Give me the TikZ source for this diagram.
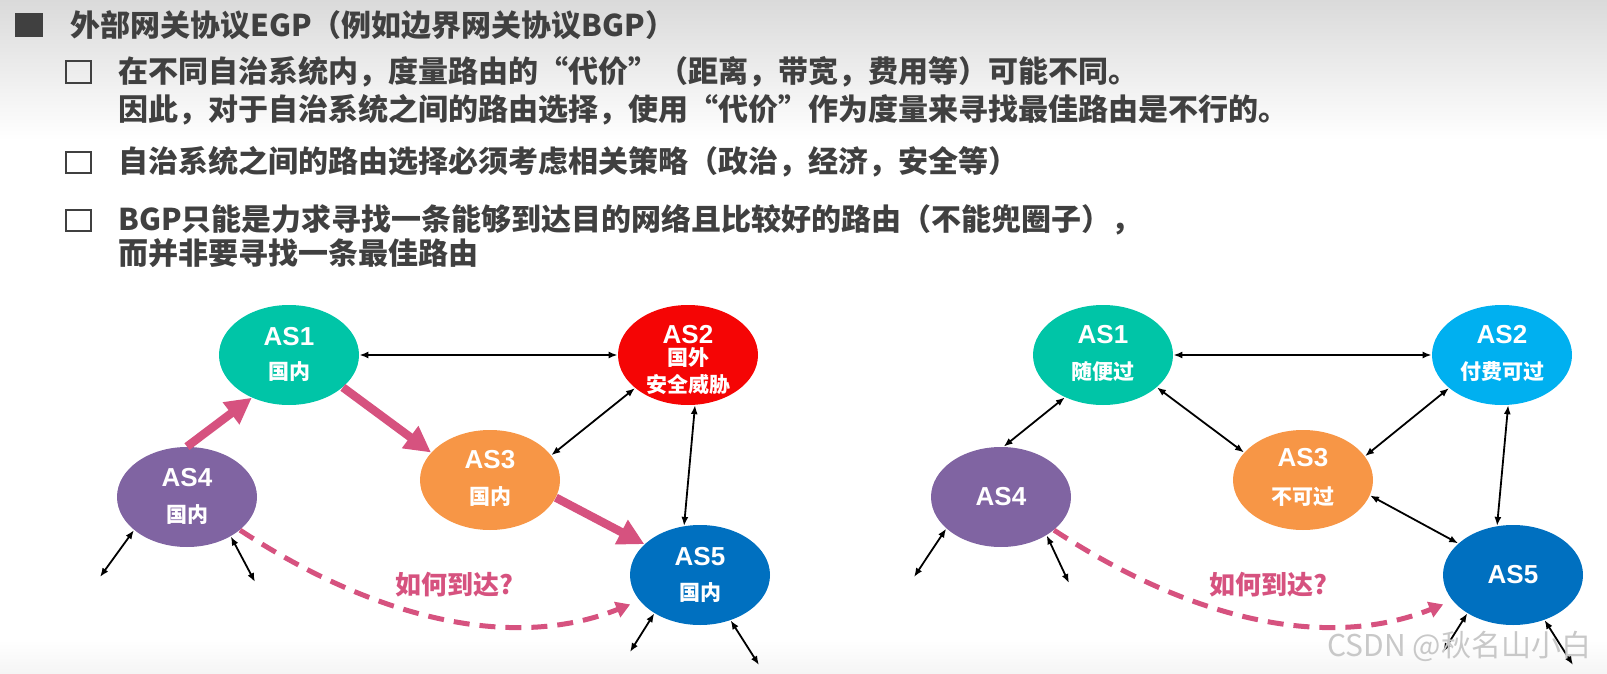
\documentclass[tikz,border=0pt]{standalone}
\usepackage{fontspec}
\setmainfont{Liberation Sans}
\newfontfamily\cjk{Noto Sans CJK SC}
\usetikzlibrary{arrows.meta,shapes.geometric}
\definecolor{TextGray}{RGB}{64,64,64}
\definecolor{HeadGray}{RGB}{218,218,218}
\definecolor{ASTeal}{RGB}{0,197,167}
\definecolor{ASRed}{RGB}{245,5,5}
\definecolor{ASOrange}{RGB}{247,150,70}
\definecolor{ASPurple}{RGB}{128,100,162}
\definecolor{ASBlue}{RGB}{0,112,192}
\definecolor{ASSky}{RGB}{0,176,240}
\definecolor{RoutePink}{RGB}{214,82,127}
\definecolor{MarkGray}{RGB}{200,200,200}

\begin{document}
\begin{tikzpicture}[x=0.5pt,y=-0.5pt,
    asnode/.style={ellipse, minimum width=70pt, minimum height=50pt, inner sep=0pt},
    asname/.style={text=white, inner sep=0pt, font=\bfseries\fontsize{13}{15}\selectfont},
    asnote/.style={text=white, inner sep=0pt, font=\cjk\bfseries\fontsize{10.5}{12}\selectfont},
    hdline/.style={anchor=west, inner sep=0pt, text=TextGray, font=\cjk\bfseries\fontsize{15}{18}\selectfont},
    link/.style={<->, >={Latex[length=4.5pt,width=3.5pt]}, line width=0.9pt},
    route/.style={-{Triangle[length=13pt,width=13pt]}, line width=4.2pt, RoutePink},
    query/.style={-{Triangle[length=7pt,width=8pt]}, line width=2.5pt, RoutePink, dash pattern=on 8pt off 5pt},
    asked/.style={text=RoutePink, inner sep=0pt, font=\cjk\bfseries\fontsize{13}{15}\selectfont}]
  \useasboundingbox (0,0) rectangle (1607,674);
  \shade[top color=HeadGray, bottom color=white] (0,0) rectangle (1607,140);
  \shade[top color=white, bottom color=black!4] (0,640) rectangle (1607,674);
  % bullets and text
  \fill[TextGray] (15,13) rectangle (43,37);
  \draw[TextGray, line width=1.3pt] (66,61) rectangle (91,83);
  \draw[TextGray, line width=1.3pt] (66,152) rectangle (91,173);
  \draw[TextGray, line width=1.3pt] (66,210) rectangle (91,231);
  \node[hdline] (h1) at (70,25) {外部网关协议EGP（例如边界网关协议BGP）};
  \node[hdline] (h2) at (118,72) {在不同自治系统内，度量路由的“代价”（距离，带宽，费用等）可能不同。};
  \node[hdline] (h3) at (118,110) {因此，对于自治系统之间的路由选择，使用“代价”作为度量来寻找最佳路由是不行的。};
  \node[hdline] (h4) at (118,162) {自治系统之间的路由选择必须考虑相关策略（政治，经济，安全等）};
  \node[hdline] (h5) at (118,220) {BGP只能是力求寻找一条能够到达目的网络且比较好的路由（不能兜圈子），};
  \node[hdline] (h6) at (118,253) {而并非要寻找一条最佳路由};

  % left: policy by country
  \node[asnode, fill=ASTeal] (l1) at (289,355) {};
  \node[asname] (l1a) at ([yshift=9pt]l1.center) {AS1};
  \node[asnote] (l1b) at ([yshift=-8.5pt]l1.center) {国内};
  \node[asnode, fill=ASRed] (l2) at (688,355) {};
  \node[asname] (l2a) at ([yshift=10pt]l2.center) {AS2};
  \node[asnote] (l2b) at ([yshift=-1.5pt]l2.center) {国外};
  \node[asnote] (l2c) at ([yshift=-15pt]l2.center) {安全威胁};
  \node[asnode, fill=ASOrange] (l3) at (490,480) {};
  \node[asname] (l3a) at ([yshift=10pt]l3.center) {AS3};
  \node[asnote] (l3b) at ([yshift=-8.5pt]l3.center) {国内};
  \node[asnode, fill=ASPurple] (l4) at (187,497) {};
  \node[asname] (l4a) at ([yshift=9.5pt]l4.center) {AS4};
  \node[asnote] (l4b) at ([yshift=-9pt]l4.center) {国内};
  \node[asnode, fill=ASBlue] (l5) at (700,575) {};
  \node[asname] (l5a) at ([yshift=9pt]l5.center) {AS5};
  \node[asnote] (l5b) at ([yshift=-9pt]l5.center) {国内};
  \coordinate (l4x) at (100,577);
  \coordinate (l4y) at (255,582);
  \coordinate (l5x) at (630,652);
  \coordinate (l5y) at (759,665);
  \draw[link] (l1) -- (l2);
  \draw[link] (l2.212) -- (l3.22);
  \draw[link] (l2.278) -- (l5.108);
  \draw[link] (l4.212) -- (l4x);
  \draw[link] (l4.318) -- (l4y);
  \draw[link] (l5.220) -- (l5x);
  \draw[link] (l5.304) -- (l5y);
  \draw[route] (l4.north) -- (l1.229);
  \draw[route] (l1.329) -- (l3.155);
  \draw[route] (l3.345) -- (l5.151);
  \draw[query, shorten >=5pt] (l4.328) .. controls +(131,86) and +(-130,52) .. (l5.203);
  \node[asked] (q1) at (454,585) {如何到达?};

  % right: policy by transit
  \node[asnode, fill=ASTeal] (r1) at (1103,355) {};
  \node[asname] (r1a) at ([yshift=10pt]r1.center) {AS1};
  \node[asnote] (r1b) at ([yshift=-8.5pt]r1.center) {随便过};
  \node[asnode, fill=ASSky] (r2) at (1502,355) {};
  \node[asname] (r2a) at ([yshift=10pt]r2.center) {AS2};
  \node[asnote] (r2b) at ([yshift=-8.5pt]r2.center) {付费可过};
  \node[asnode, fill=ASOrange] (r3) at (1303,480) {};
  \node[asname] (r3a) at ([yshift=11pt]r3.center) {AS3};
  \node[asnote] (r3b) at ([yshift=-8.5pt]r3.center) {不可过};
  \node[asnode, fill=ASPurple] (r4) at (1001,497) {};
  \node[asname] (r4a) at (r4.center) {AS4};
  \node[asnode, fill=ASBlue] (r5) at (1513,575) {};
  \node[asname] (r5a) at (r5.center) {AS5};
  \coordinate (r4x) at (914,577);
  \coordinate (r4y) at (1069,583);
  \coordinate (r5x) at (1443,652);
  \coordinate (r5y) at (1573,665);
  \draw[link] (r1) -- (r2);
  \draw[link] (r1.228) -- (r4.87);
  \draw[link] (r1.329) -- (r3.155);
  \draw[link] (r2.212) -- (r3.21);
  \draw[link] (r2.277) -- (r5.108);
  \draw[link] (r3.347) -- (r5.150);
  \draw[link] (r4.210) -- (r4x);
  \draw[link] (r4.320) -- (r4y);
  \draw[link] (r5.220) -- (r5x);
  \draw[link] (r5.305) -- (r5y);
  \draw[query, shorten >=5pt] (r4.328) .. controls +(131,86) and +(-130,52) .. (r5.203);
  \node[asked] (q2) at (1268,585) {如何到达?};

  \node[anchor=west, inner sep=0pt, text=MarkGray, font=\cjk\fontsize{15}{18}\selectfont] (wm) at (1327,646) {CSDN @秋名山小白};
\end{tikzpicture}
\end{document}
